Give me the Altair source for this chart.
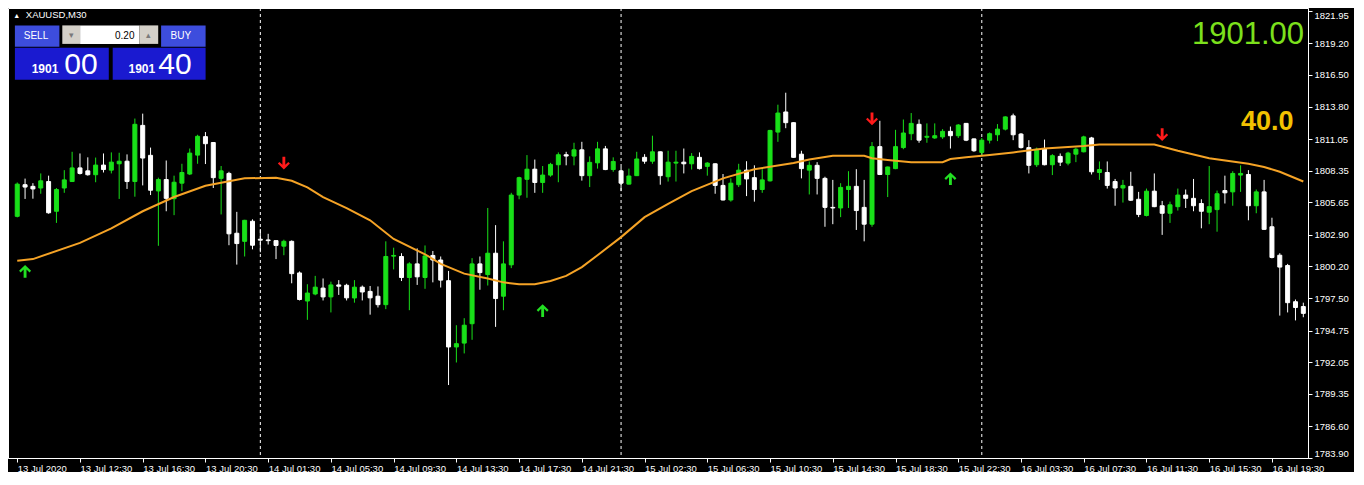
import altair as alt
import pandas as pd

# ---------------- data (XAUUSD, M30) ----------------
bar_open = [1804.47, 1807.16, 1807.02, 1806.88, 1807.43, 1804.90, 1806.88, 1807.43, 1808.59, 1808.34,
            1808.01, 1808.83, 1808.40, 1808.94, 1809.16, 1807.43, 1812.21, 1809.66, 1806.63, 1807.60,
            1805.97, 1807.29, 1808.07, 1809.68, 1811.25, 1810.75, 1807.70, 1808.12, 1803.03, 1802.34,
            1804.05, 1802.52, 1802.46, 1802.40, 1801.93, 1802.34, 1799.65, 1797.26, 1797.86, 1798.36,
            1797.61, 1798.63, 1798.60, 1797.52, 1798.44, 1798.08, 1797.67, 1796.95, 1801.08, 1801.05,
            1799.26, 1800.42, 1799.26, 1801.14, 1800.75, 1798.99, 1793.35, 1793.68, 1795.33, 1800.42,
            1799.51, 1801.33, 1797.67, 1800.34, 1806.28, 1807.62, 1808.48, 1807.35, 1807.98, 1808.86,
            1809.71, 1809.60, 1810.13, 1807.93, 1809.02, 1810.21, 1808.45, 1808.34, 1807.21, 1807.93,
            1809.49, 1809.16, 1809.96, 1807.84, 1809.00, 1809.08, 1808.94, 1809.49, 1808.72, 1808.94,
            1807.10, 1805.86, 1807.16, 1808.40, 1807.76, 1806.75, 1807.49, 1811.64, 1813.35, 1812.44,
            1809.76, 1808.40, 1808.81, 1807.70, 1805.23, 1805.18, 1806.75, 1807.02, 1805.23, 1803.80,
            1810.40, 1808.03, 1808.53, 1810.32, 1811.50, 1812.30, 1811.20, 1811.14, 1811.23, 1811.70,
            1811.33, 1812.38, 1811.06, 1809.91, 1810.95, 1811.41, 1811.89, 1813.02, 1811.47, 1810.32,
            1808.86, 1810.24, 1808.86, 1809.57, 1809.00, 1809.76, 1809.96, 1811.14, 1808.20, 1808.20,
            1807.43, 1806.88, 1807.02, 1805.92, 1804.54, 1806.61, 1805.37, 1804.73, 1805.29, 1806.28,
            1806.00, 1805.56, 1804.82, 1805.04, 1806.66, 1806.55, 1807.98, 1808.03, 1805.37, 1806.55,
            1803.58, 1801.16, 1800.28, 1797.20, 1796.79]
bar_high = [1807.35, 1807.68, 1807.29, 1808.12, 1807.93, 1806.88, 1808.40, 1809.96, 1809.82, 1809.49,
            1809.47, 1809.82, 1809.91, 1809.88, 1809.74, 1812.79, 1813.21, 1810.32, 1807.76, 1809.22,
            1807.93, 1808.94, 1810.24, 1811.41, 1811.64, 1810.79, 1808.75, 1808.26, 1804.85, 1804.17,
            1804.21, 1803.39, 1802.98, 1802.42, 1802.48, 1802.42, 1799.78, 1798.69, 1799.40, 1799.18,
            1798.91, 1799.04, 1798.73, 1799.04, 1798.58, 1798.54, 1798.50, 1802.34, 1801.80, 1801.33,
            1800.56, 1801.74, 1801.99, 1801.52, 1801.05, 1799.82, 1795.20, 1795.80, 1800.91, 1801.05,
            1805.18, 1803.72, 1802.34, 1806.47, 1807.84, 1809.68, 1809.30, 1808.75, 1809.02, 1809.91,
            1809.96, 1810.73, 1810.81, 1809.57, 1810.81, 1810.46, 1809.49, 1808.67, 1808.53, 1809.96,
            1809.76, 1811.33, 1809.99, 1810.05, 1810.05, 1810.24, 1809.85, 1809.91, 1809.08, 1808.97,
            1808.07, 1807.70, 1808.94, 1809.16, 1808.81, 1808.48, 1811.83, 1813.97, 1814.99, 1812.47,
            1810.05, 1809.14, 1809.08, 1807.84, 1807.57, 1807.29, 1808.31, 1808.48, 1807.57, 1810.79,
            1812.60, 1808.70, 1811.83, 1812.71, 1813.26, 1812.71, 1812.38, 1812.38, 1811.89, 1812.11,
            1812.32, 1812.41, 1811.09, 1811.14, 1811.61, 1812.32, 1812.98, 1813.21, 1811.56, 1810.95,
            1810.32, 1811.00, 1809.76, 1809.82, 1809.96, 1810.32, 1811.33, 1811.23, 1809.14, 1809.14,
            1807.65, 1807.57, 1808.26, 1806.55, 1806.83, 1808.12, 1805.78, 1805.72, 1806.83, 1806.75,
            1807.65, 1805.92, 1808.75, 1806.66, 1807.93, 1808.31, 1808.81, 1808.40, 1806.75, 1807.57,
            1804.35, 1801.33, 1800.42, 1797.39, 1797.12]
bar_low = [1804.38, 1805.95, 1805.97, 1806.39, 1804.69, 1803.91, 1806.47, 1807.39, 1808.03, 1807.93,
           1807.37, 1808.20, 1808.12, 1805.95, 1806.80, 1806.14, 1807.10, 1806.28, 1801.96, 1804.90,
           1804.57, 1806.61, 1807.98, 1808.94, 1808.92, 1806.88, 1804.63, 1802.01, 1800.36, 1801.05,
           1801.66, 1801.41, 1802.07, 1800.83, 1801.16, 1798.77, 1797.31, 1795.66, 1797.75, 1797.31,
           1796.29, 1797.78, 1797.31, 1797.12, 1797.31, 1796.10, 1796.71, 1796.57, 1799.95, 1798.96,
           1796.48, 1798.63, 1798.30, 1798.85, 1798.41, 1790.11, 1792.03, 1792.80, 1793.96, 1798.22,
           1798.58, 1795.06, 1796.48, 1800.06, 1805.92, 1806.05, 1806.47, 1806.47, 1807.84, 1807.37,
           1808.81, 1808.81, 1807.51, 1806.96, 1808.53, 1808.40, 1808.26, 1806.61, 1807.18, 1807.90,
           1808.94, 1808.94, 1807.16, 1807.43, 1807.43, 1808.12, 1808.45, 1808.45, 1807.93, 1806.39,
           1805.82, 1805.72, 1806.96, 1806.19, 1805.72, 1806.47, 1807.43, 1810.81, 1811.97, 1809.45,
           1807.70, 1806.33, 1806.33, 1803.58, 1803.80, 1804.40, 1805.18, 1803.31, 1802.34, 1803.58,
           1807.98, 1806.11, 1808.48, 1810.18, 1810.95, 1810.73, 1810.73, 1811.06, 1811.06, 1810.24,
           1811.14, 1810.87, 1809.96, 1809.63, 1810.67, 1810.87, 1811.78, 1810.95, 1810.24, 1808.12,
           1808.67, 1808.81, 1807.98, 1808.75, 1808.81, 1809.08, 1809.91, 1808.03, 1807.57, 1806.83,
           1805.37, 1805.64, 1805.78, 1804.40, 1804.46, 1805.25, 1802.89, 1803.91, 1804.96, 1805.18,
           1804.90, 1803.45, 1803.80, 1803.16, 1805.56, 1805.37, 1806.55, 1804.13, 1804.73, 1803.31,
           1800.89, 1796.02, 1796.29, 1795.61, 1795.88]
bar_close = [1807.21, 1806.96, 1806.80, 1807.49, 1804.77, 1806.75, 1807.57, 1808.59, 1808.12, 1808.01,
             1808.83, 1808.45, 1809.08, 1809.16, 1807.43, 1812.30, 1809.43, 1806.69, 1807.60, 1806.00,
             1807.37, 1808.20, 1809.85, 1811.28, 1810.65, 1807.76, 1808.34, 1802.98, 1802.15, 1804.13,
             1802.01, 1802.44, 1802.40, 1801.99, 1802.34, 1799.59, 1797.39, 1797.94, 1798.44, 1797.61,
             1798.63, 1798.52, 1797.53, 1798.44, 1798.03, 1797.53, 1796.95, 1801.05, 1801.14, 1799.26,
             1800.42, 1799.32, 1801.10, 1800.75, 1799.04, 1793.35, 1793.63, 1795.20, 1800.42, 1799.68,
             1801.33, 1797.47, 1800.42, 1806.28, 1807.76, 1808.48, 1807.35, 1807.98, 1808.89, 1809.71,
             1809.60, 1810.13, 1807.93, 1809.06, 1810.21, 1808.45, 1809.14, 1807.29, 1807.90, 1809.35,
             1809.16, 1809.96, 1807.93, 1809.08, 1809.08, 1808.94, 1809.57, 1808.53, 1809.00, 1807.10,
             1805.86, 1807.29, 1808.40, 1807.65, 1806.75, 1807.57, 1811.78, 1813.26, 1812.44, 1809.49,
             1808.53, 1808.81, 1807.70, 1805.23, 1805.18, 1806.93, 1807.02, 1804.96, 1803.80, 1810.40,
             1808.03, 1808.67, 1810.40, 1811.56, 1812.38, 1810.95, 1811.28, 1811.33, 1811.70, 1811.33,
             1812.24, 1810.95, 1810.05, 1810.95, 1811.50, 1811.89, 1812.93, 1811.41, 1810.32, 1808.81,
             1810.18, 1808.86, 1809.63, 1809.08, 1809.85, 1810.18, 1811.23, 1808.26, 1808.45, 1807.10,
             1806.88, 1807.10, 1805.84, 1804.63, 1806.61, 1805.29, 1804.73, 1805.45, 1806.28, 1806.00,
             1805.37, 1804.90, 1805.29, 1806.39, 1806.47, 1808.12, 1808.12, 1805.37, 1806.55, 1803.36,
             1800.97, 1800.15, 1797.12, 1796.71, 1796.21]

ma_idx = [0, 2, 8, 12, 16, 20, 24, 29, 33, 35, 37, 39, 42, 45, 48, 52, 54, 57, 60, 62,
          64, 66, 68, 70, 72, 74, 77, 80, 83, 86, 90, 94, 99, 101, 104, 108, 109, 111, 114, 118,
          119, 121, 124, 127, 131, 136, 138, 145, 148, 152, 157, 159, 161, 164]
ma_val = [1800.69, 1800.83, 1802.21, 1803.44, 1804.90, 1806.11, 1807.07, 1807.70, 1807.76, 1807.49,
          1806.93, 1806.11, 1805.16, 1804.13, 1802.54, 1801.24, 1800.42, 1799.59, 1799.18, 1798.85,
          1798.69, 1798.69, 1798.96, 1799.40, 1800.15, 1801.16, 1802.70, 1804.40, 1805.53, 1806.61,
          1807.70, 1808.48, 1809.00, 1809.30, 1809.63, 1809.63, 1809.41, 1809.27, 1809.08, 1809.08,
          1809.35, 1809.49, 1809.68, 1809.91, 1810.24, 1810.46, 1810.59, 1810.59, 1810.05, 1809.41,
          1808.94, 1808.67, 1808.26, 1807.43]

up_idx = [1, 67, 119]
up_val = [1799.80, 1796.46, 1807.68]
down_idx = [34, 109, 146]
down_val = [1808.99, 1812.75, 1811.41]

sep_idx = [31, 77, 123]

price_ticks = [1821.95, 1819.20, 1816.50, 1813.80, 1811.05, 1808.35, 1805.65, 1802.90,
               1800.20, 1797.50, 1794.75, 1792.05, 1789.35, 1786.60, 1783.90]
time_tick_idx = [0, 8, 16, 24, 32, 40, 48, 56, 64, 72, 80, 88, 96, 104, 112, 120, 128, 136, 144, 152, 160]
time_tick_labels = ["13 Jul 2020", "13 Jul 12:30", "13 Jul 16:30", "13 Jul 20:30", "14 Jul 01:30",
                    "14 Jul 05:30", "14 Jul 09:30", "14 Jul 13:30", "14 Jul 17:30", "14 Jul 21:30",
                    "15 Jul 02:30", "15 Jul 06:30", "15 Jul 10:30", "15 Jul 14:30", "15 Jul 18:30",
                    "15 Jul 22:30", "16 Jul 03:30", "16 Jul 07:30", "16 Jul 11:30", "16 Jul 15:30",
                    "16 Jul 19:30"]

# ---------------- tables ----------------
candles = pd.DataFrame({"idx": list(range(len(bar_open))), "open": bar_open, "high": bar_high,
                        "low": bar_low, "close": bar_close})
candles["dir"] = ["bull" if c >= o else "bear" for o, c in zip(bar_open, bar_close)]
ma_df = pd.DataFrame({"idx": ma_idx, "ma": ma_val})
up_df = pd.DataFrame({"idx": up_idx, "val": up_val})
down_df = pd.DataFrame({"idx": down_idx, "val": down_val})
sep_df = pd.DataFrame({"idx": sep_idx})
one = pd.DataFrame({"k": [0]})

# ---------------- style ----------------
W, H = 1300, 450
FONT = "Liberation Sans"
BULL = "#19e019"
BEAR = "#ffffff"
MA_COL = "#f5a326"

x_scale = alt.Scale(domain=[-0.54, 163.96], nice=False, zero=False)
y_scale = alt.Scale(domain=[1783.90, 1822.20], nice=False, zero=False)

label_expr = ("[" + ",".join(repr(s) for s in time_tick_labels) + "][indexof(["
              + ",".join(str(v) for v in time_tick_idx) + "], datum.value)]")

x_axis = alt.Axis(values=time_tick_idx, labelExpr=label_expr, title=None, grid=False,
                  domainColor="#ffffff", tickColor="#ffffff", tickSize=4, labelColor="#ffffff",
                  labelFont=FONT, labelFontSize=9.5, labelAlign="left", labelBaseline="top",
                  labelPadding=1, labelFlush=False, labelOverlap=False)
y_axis = alt.Axis(values=price_ticks, format=".2f", orient="right", title=None, grid=False,
                  domainColor="#ffffff", tickColor="#ffffff", tickSize=4, labelColor="#ffffff",
                  labelFont=FONT, labelFontSize=9.5, labelPadding=2, labelFlush=4,
                  labelOverlap=False)


def X():
    return alt.X("idx:Q", scale=x_scale, axis=x_axis)


def Y(field):
    return alt.Y(field, scale=y_scale, axis=y_axis)


color_scale = alt.Scale(domain=["bull", "bear"], range=[BULL, BEAR])

seps = alt.Chart(sep_df).mark_rule(color="#ffffff", strokeDash=[3, 3], strokeWidth=1).encode(x=X())

wicks = alt.Chart(candles).mark_rule(strokeWidth=1, clip=True).encode(
    x=X(), y=Y("low:Q"), y2="high:Q",
    color=alt.Color("dir:N", scale=color_scale, legend=None))

bodies = alt.Chart(candles).mark_bar(size=4, strokeWidth=1, clip=True).encode(
    x=X(), y=Y("open:Q"), y2="close:Q",
    fill=alt.Fill("dir:N", scale=color_scale, legend=None),
    stroke=alt.Stroke("dir:N", scale=color_scale, legend=None))

ma_line = alt.Chart(ma_df).mark_line(color=MA_COL, strokeWidth=2, clip=True).encode(
    x=X(), y=Y("ma:Q"))

UP = "M-0.22,1L0.22,1L0.22,-0.25L0.68,0.2L0.92,-0.05L0,-0.95L-0.92,-0.05L-0.68,0.2L-0.22,-0.25Z"
DOWN = "M-0.22,-1L0.22,-1L0.22,0.25L0.68,-0.2L0.92,0.05L0,0.95L-0.92,0.05L-0.68,-0.2L-0.22,0.25Z"

up_arrows = alt.Chart(up_df).mark_point(shape=UP, filled=True, size=170, color="#22e022",
                                        opacity=1).encode(x=X(), y=Y("val:Q"))
down_arrows = alt.Chart(down_df).mark_point(shape=DOWN, filled=True, size=170, color="#ff1a1a",
                                            opacity=1).encode(x=X(), y=Y("val:Q"))


def box(x0, x1, y0, y1, color):
    return alt.Chart(one).mark_rect(color=color).encode(
        x=alt.value(x0), x2=alt.value(x1), y=alt.value(y0), y2=alt.value(y1))


def txt(x, y, s, size, color, align="left", baseline="alphabetic", weight="normal"):
    return alt.Chart(one).mark_text(text=s, fontSize=size, color=color, align=align,
                                    baseline=baseline, fontWeight=weight, font=FONT).encode(
        x=alt.value(x), y=alt.value(y))


panel = [
    txt(8.7, 8.2, "▲", 7, "#ffffff", align="center", baseline="middle"),
    txt(17.8, 7.2, "XAUUSD,M30", 9.5, "#ffffff", baseline="middle"),
    box(6.9, 51.4, 17.4, 38.8, "#3d4ddd"),
    box(54.3, 72.1, 17.4, 35.9, "#d4d0c8"),
    box(72.1, 131.4, 17.4, 35.9, "#ffffff"),
    box(131.4, 150.2, 17.4, 35.9, "#d4d0c8"),
    box(153.1, 197.6, 17.4, 38.8, "#3d4ddd"),
    box(6.9, 100.8, 39.8, 71.8, "#1a1ad0"),
    box(104.7, 197.6, 39.8, 71.8, "#1a1ad0"),
    txt(28.0, 28.2, "SELL", 10, "#ffffff", align="center", baseline="middle"),
    txt(172.9, 28.2, "BUY", 10, "#ffffff", align="center", baseline="middle"),
    txt(126.5, 27.6, "0.20", 10, "#000000", align="right", baseline="middle"),
    txt(63.2, 26.6, "▾", 9, "#7a7a7a", align="center", baseline="middle"),
    txt(140.8, 26.6, "▴", 9, "#7a7a7a", align="center", baseline="middle"),
    txt(23.7, 65.0, "1901", 12, "#ffffff", weight="bold"),
    txt(56.3, 66.0, "00", 30, "#ffffff"),
    txt(120.5, 65.0, "1901", 12, "#ffffff", weight="bold"),
    txt(150.2, 66.0, "40", 30, "#ffffff"),
    txt(1296, 35.9, "1901.00", 31, "#7ce01c", align="right"),
    txt(1285.5, 122.2, "40.0", 27, "#f2c200", align="right", weight="bold"),
]

chart = alt.layer(seps, wicks, bodies, ma_line, up_arrows, down_arrows, *panel).properties(
    width=W, height=H,
    autosize=alt.AutoSizeParams(type="none"),
    padding={"left": 0, "top": 0, "right": 46, "bottom": 14},
    background="#000000",
).configure_view(stroke="#ffffff", strokeWidth=1)

chart.save("out.html", embed_options={"renderer": "svg", "actions": False})
